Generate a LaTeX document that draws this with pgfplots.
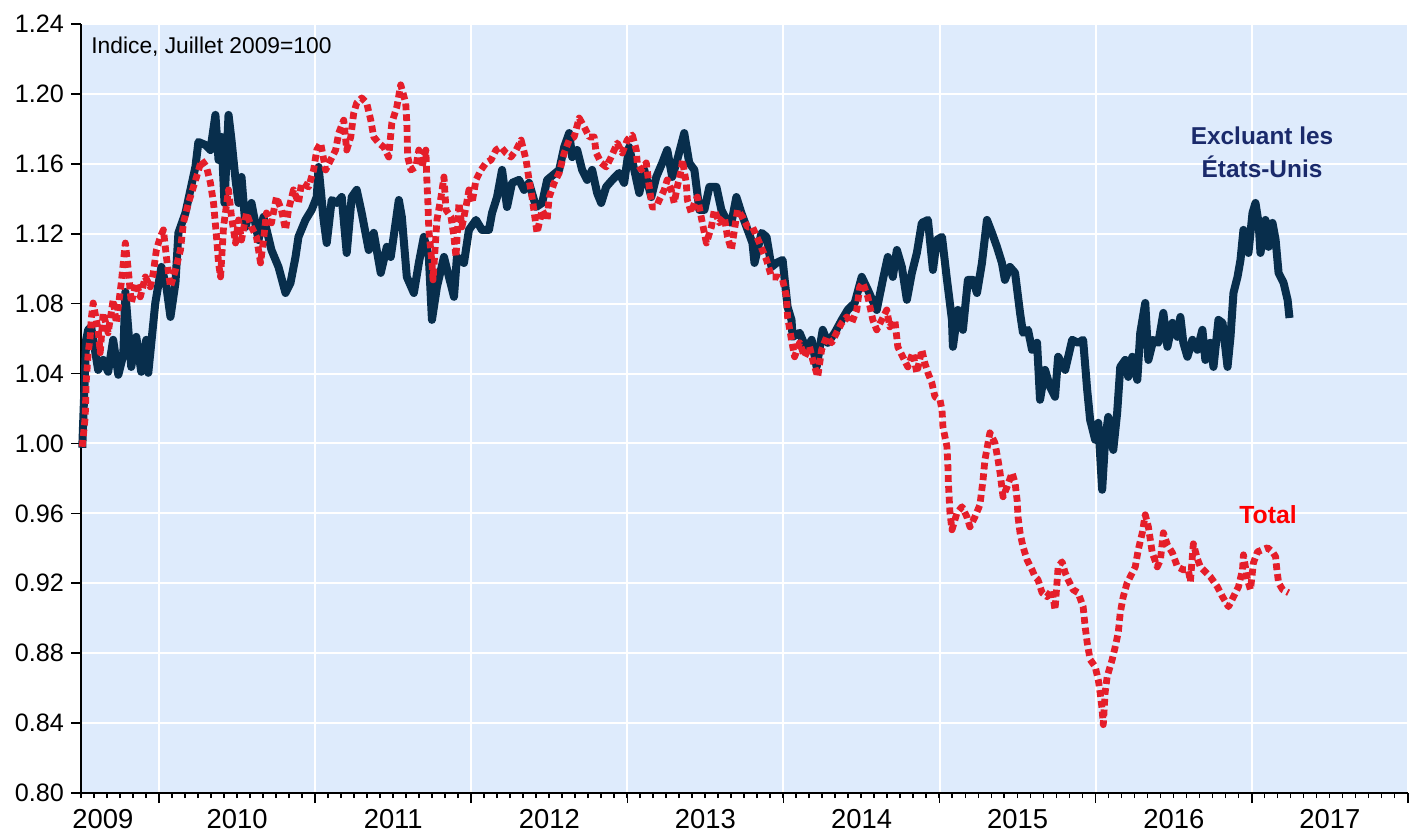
\documentclass[border=0pt]{standalone}
\usepackage{pgfplots}
\pgfplotsset{compat=1.18}
\usepackage{fontspec}
\setmainfont{Liberation Sans}
\definecolor{bgblue}{RGB}{222,235,252}
\definecolor{navyline}{RGB}{8,46,76}
\definecolor{redline}{RGB}{229,30,42}
\definecolor{navytext}{RGB}{26,42,107}
\definecolor{redtext}{RGB}{255,0,0}
\begin{document}
\begin{tikzpicture}
\useasboundingbox (-40.5pt,-19.5pt) rectangle (665.5pt,396.5pt);
\begin{axis}[
  at={(0,0)}, anchor=south west,
  scale only axis, width=663.5pt, height=384.5pt,
  xmin=2009.5, xmax=2018, ymin=0.80, ymax=1.24,
  axis background/.style={fill=bgblue},
  axis x line*=bottom, axis y line*=left,
  axis line style={black, line width=1pt, -},
  tick align=outside,
  xtick={2010,...,2018}, xticklabels={},
  minor xtick={2009.5,2009.58333,...,2018.01},
  major tick length=5pt, minor tick length=2.5pt,
  every tick/.style={black, line width=0.8pt},
  extra x ticks={2009.64,2010.5,2011.5,2012.5,2013.5,2014.5,2015.5,2016.5,2017.5},
  extra x tick labels={2009,2010,2011,2012,2013,2014,2015,2016,2017},
  extra x tick style={grid=none, major tick length=0pt},
  ytick={0.80,0.84,...,1.241},
  /pgf/number format/assume math mode=true,
  xticklabel style={font=\fontsize{13.7}{15}\selectfont, yshift=-7.2pt, inner sep=1pt},
  yticklabel style={font=\fontsize{12.6}{14}\selectfont, /pgf/number format/fixed, /pgf/number format/fixed zerofill, /pgf/number format/precision=2},
  grid=major,
  major grid style={white, line width=1pt},
  clip=false,
]
\addplot[navyline, line width=4pt, line join=round] table {
x y
2009.508 0.9975
2009.533 1.0593
2009.546 1.0650
2009.565 1.0667
2009.610 1.0421
2009.642 1.0478
2009.674 1.0410
2009.706 1.0593
2009.739 1.0393
2009.771 1.0507
2009.784 1.0867
2009.822 1.0438
2009.854 1.0610
2009.886 1.0410
2009.918 1.0593
2009.931 1.0404
2009.976 1.0804
2010.015 1.1010
2010.047 1.0896
2010.073 1.0724
2010.105 1.0919
2010.124 1.1205
2010.169 1.1319
2010.201 1.1451
2010.233 1.1583
2010.252 1.1725
2010.297 1.1708
2010.329 1.1679
2010.361 1.1880
2010.381 1.1622
2010.400 1.1754
2010.419 1.1376
2010.445 1.1880
2010.464 1.1736
2010.490 1.1508
2010.509 1.1376
2010.528 1.1525
2010.554 1.1239
2010.592 1.1376
2010.637 1.1164
2010.669 1.1296
2010.720 1.1107
2010.765 1.1010
2010.810 1.0861
2010.842 1.0919
2010.874 1.1067
2010.893 1.1182
2010.938 1.1279
2010.977 1.1336
2011.010 1.1410
2011.022 1.1582
2011.054 1.1279
2011.074 1.1147
2011.106 1.1393
2011.138 1.1376
2011.170 1.1410
2011.202 1.1090
2011.234 1.1410
2011.266 1.1451
2011.298 1.1319
2011.343 1.1107
2011.375 1.1205
2011.420 1.0976
2011.459 1.1125
2011.484 1.1067
2011.536 1.1393
2011.555 1.1296
2011.587 1.0953
2011.632 1.0861
2011.664 1.1033
2011.696 1.1182
2011.728 1.1067
2011.748 1.0707
2011.780 1.0896
2011.825 1.1067
2011.857 1.0953
2011.889 1.0839
2011.908 1.1067
2011.953 1.1033
2011.985 1.1222
2012.030 1.1279
2012.068 1.1222
2012.113 1.1222
2012.133 1.1319
2012.165 1.1410
2012.197 1.1565
2012.229 1.1353
2012.261 1.1491
2012.306 1.1508
2012.338 1.1451
2012.370 1.1491
2012.415 1.1353
2012.454 1.1376
2012.486 1.1508
2012.563 1.1565
2012.595 1.1696
2012.627 1.1776
2012.646 1.1639
2012.678 1.1679
2012.710 1.1565
2012.742 1.1508
2012.774 1.1565
2012.806 1.1433
2012.832 1.1376
2012.864 1.1468
2012.903 1.1508
2012.947 1.1548
2012.979 1.1491
2013.011 1.1696
2013.044 1.1565
2013.076 1.1433
2013.108 1.1565
2013.153 1.1410
2013.185 1.1525
2013.223 1.1605
2013.255 1.1679
2013.287 1.1525
2013.319 1.1622
2013.364 1.1776
2013.396 1.1605
2013.429 1.1565
2013.461 1.1336
2013.493 1.1336
2013.525 1.1468
2013.570 1.1468
2013.602 1.1336
2013.634 1.1279
2013.666 1.1262
2013.698 1.1410
2013.730 1.1319
2013.763 1.1239
2013.801 1.1147
2013.814 1.1033
2013.859 1.1205
2013.891 1.1182
2013.923 1.1010
2013.955 1.1033
2013.994 1.1050
2014.026 1.0781
2014.051 1.0707
2014.058 1.0610
2014.103 1.0633
2014.148 1.0536
2014.180 1.0593
2014.212 1.0438
2014.251 1.0650
2014.283 1.0576
2014.328 1.0633
2014.373 1.0707
2014.411 1.0764
2014.456 1.0804
2014.501 1.0953
2014.540 1.0879
2014.597 1.0764
2014.636 1.0936
2014.668 1.1067
2014.700 1.0953
2014.726 1.1107
2014.758 1.1010
2014.790 1.0822
2014.822 1.0976
2014.854 1.1090
2014.886 1.1262
2014.925 1.1279
2014.957 1.0993
2014.982 1.1165
2015.015 1.1182
2015.047 1.0936
2015.079 1.0707
2015.085 1.0553
2015.117 1.0764
2015.149 1.0650
2015.181 1.0936
2015.213 1.0936
2015.239 1.0861
2015.271 1.1033
2015.303 1.1279
2015.335 1.1205
2015.367 1.1125
2015.399 1.1033
2015.418 1.0936
2015.450 1.1010
2015.483 1.0976
2015.515 1.0747
2015.534 1.0633
2015.566 1.0650
2015.592 1.0536
2015.624 1.0576
2015.643 1.0250
2015.675 1.0421
2015.707 1.0324
2015.739 1.0267
2015.759 1.0496
2015.804 1.0421
2015.849 1.0593
2015.887 1.0576
2015.919 1.0593
2015.945 1.0307
2015.964 1.0135
2015.996 1.0021
2016.016 1.0118
2016.041 0.9735
2016.060 1.0021
2016.080 1.0152
2016.112 0.9963
2016.137 1.0175
2016.157 1.0438
2016.189 1.0478
2016.208 1.0381
2016.234 1.0496
2016.266 1.0364
2016.285 1.0633
2016.317 1.0804
2016.337 1.0478
2016.369 1.0593
2016.401 1.0576
2016.433 1.0747
2016.459 1.0553
2016.491 1.0690
2016.523 1.0610
2016.542 1.0724
2016.561 1.0576
2016.587 1.0496
2016.619 1.0593
2016.651 1.0536
2016.683 1.0650
2016.702 1.0478
2016.734 1.0576
2016.754 1.0438
2016.786 1.0707
2016.812 1.0690
2016.844 1.0438
2016.863 1.0610
2016.882 1.0861
2016.908 1.0953
2016.927 1.1050
2016.946 1.1222
2016.978 1.1090
2017.004 1.1319
2017.023 1.1376
2017.043 1.1262
2017.055 1.1090
2017.087 1.1279
2017.107 1.1125
2017.132 1.1262
2017.152 1.1165
2017.171 1.0976
2017.203 1.0919
2017.229 1.0821
2017.241 1.0718
};
\addplot[redline, line width=3.4pt, line join=round, dash pattern=on 3.4pt off 2pt] table {
x y
2009.508 0.9981
2009.527 1.0152
2009.533 1.0347
2009.546 1.0519
2009.559 1.0610
2009.565 1.0707
2009.578 1.0804
2009.610 1.0650
2009.623 1.0519
2009.642 1.0747
2009.674 1.0633
2009.706 1.0822
2009.726 1.0690
2009.758 1.0919
2009.784 1.1147
2009.803 1.0993
2009.822 1.0804
2009.854 1.0919
2009.880 1.0839
2009.912 1.0953
2009.944 1.0896
2009.963 1.0976
2009.983 1.1107
2010.008 1.1182
2010.028 1.1222
2010.047 1.1067
2010.073 1.0896
2010.105 1.0993
2010.137 1.1107
2010.156 1.1262
2010.188 1.1376
2010.208 1.1433
2010.240 1.1525
2010.272 1.1622
2010.304 1.1582
2010.329 1.1491
2010.349 1.1376
2010.368 1.1182
2010.381 1.1033
2010.394 1.0953
2010.413 1.1239
2010.445 1.1451
2010.464 1.1296
2010.490 1.1147
2010.509 1.1279
2010.528 1.1164
2010.560 1.1319
2010.592 1.1239
2010.624 1.1182
2010.650 1.1033
2010.669 1.1164
2010.688 1.1319
2010.720 1.1262
2010.752 1.1410
2010.784 1.1336
2010.810 1.1222
2010.829 1.1336
2010.861 1.1451
2010.893 1.1376
2010.913 1.1491
2010.958 1.1468
2010.990 1.1565
2011.010 1.1679
2011.035 1.1719
2011.067 1.1565
2011.099 1.1622
2011.131 1.1679
2011.151 1.1776
2011.183 1.1850
2011.202 1.1679
2011.228 1.1754
2011.247 1.1891
2011.266 1.1948
2011.298 1.1977
2011.330 1.1948
2011.356 1.1850
2011.375 1.1754
2011.407 1.1719
2011.439 1.1696
2011.471 1.1639
2011.491 1.1834
2011.523 1.1926
2011.548 1.2052
2011.580 1.1948
2011.587 1.1834
2011.593 1.1639
2011.613 1.1565
2011.645 1.1582
2011.664 1.1679
2011.684 1.1582
2011.709 1.1679
2011.716 1.1491
2011.722 1.1376
2011.728 1.1222
2011.748 1.1033
2011.755 1.0936
2011.780 1.1279
2011.806 1.1410
2011.825 1.1525
2011.838 1.1336
2011.870 1.1296
2011.889 1.1182
2011.902 1.1067
2011.921 1.1376
2011.940 1.1239
2011.966 1.1353
2011.985 1.1451
2012.005 1.1376
2012.030 1.1508
2012.062 1.1565
2012.094 1.1605
2012.126 1.1622
2012.158 1.1679
2012.190 1.1696
2012.222 1.1662
2012.254 1.1639
2012.287 1.1679
2012.319 1.1736
2012.351 1.1622
2012.370 1.1508
2012.389 1.1410
2012.421 1.1205
2012.454 1.1336
2012.486 1.1279
2012.499 1.1410
2012.531 1.1491
2012.563 1.1548
2012.595 1.1662
2012.627 1.1736
2012.659 1.1754
2012.691 1.1862
2012.723 1.1811
2012.755 1.1754
2012.787 1.1754
2012.800 1.1662
2012.832 1.1605
2012.864 1.1582
2012.896 1.1639
2012.935 1.1719
2012.967 1.1662
2012.999 1.1736
2013.031 1.1765
2013.057 1.1679
2013.063 1.1605
2013.089 1.1565
2013.121 1.1605
2013.140 1.1468
2013.159 1.1353
2013.185 1.1353
2013.204 1.1393
2013.236 1.1451
2013.255 1.1508
2013.281 1.1451
2013.300 1.1376
2013.319 1.1468
2013.345 1.1565
2013.352 1.1622
2013.377 1.1491
2013.384 1.1393
2013.409 1.1319
2013.429 1.1376
2013.448 1.1410
2013.480 1.1262
2013.506 1.1147
2013.538 1.1239
2013.557 1.1336
2013.589 1.1262
2013.621 1.1296
2013.641 1.1182
2013.666 1.1107
2013.705 1.1336
2013.737 1.1296
2013.769 1.1239
2013.801 1.1239
2013.846 1.1147
2013.891 1.1050
2013.923 1.0953
2013.962 1.0953
2013.994 1.0936
2014.019 1.0839
2014.026 1.0724
2014.051 1.0593
2014.071 1.0496
2014.103 1.0576
2014.135 1.0496
2014.167 1.0553
2014.187 1.0478
2014.219 1.0381
2014.244 1.0536
2014.276 1.0610
2014.308 1.0576
2014.340 1.0633
2014.373 1.0690
2014.405 1.0724
2014.437 1.0690
2014.469 1.0764
2014.488 1.0896
2014.508 1.0919
2014.540 1.0839
2014.572 1.0707
2014.597 1.0650
2014.629 1.0707
2014.661 1.0764
2014.681 1.0667
2014.713 1.0707
2014.732 1.0553
2014.764 1.0496
2014.796 1.0438
2014.828 1.0519
2014.854 1.0404
2014.886 1.0536
2014.905 1.0461
2014.925 1.0404
2014.950 1.0347
2014.970 1.0267
2015.002 1.0250
2015.015 1.0193
2015.021 1.0095
2015.047 0.9981
2015.053 0.9866
2015.056 0.9775
2015.066 0.9603
2015.079 0.9506
2015.111 0.9603
2015.143 0.9638
2015.175 0.9580
2015.194 0.9523
2015.226 0.9580
2015.258 0.9649
2015.278 0.9792
2015.290 0.9906
2015.322 1.0061
2015.354 1.0003
2015.374 0.9906
2015.387 0.9832
2015.406 0.9695
2015.432 0.9752
2015.464 0.9832
2015.483 0.9775
2015.496 0.9678
2015.502 0.9580
2015.515 0.9489
2015.534 0.9409
2015.560 0.9334
2015.592 0.9277
2015.611 0.9237
2015.630 0.9220
2015.656 0.9146
2015.688 0.9123
2015.720 0.9163
2015.739 0.9048
2015.759 0.9294
2015.784 0.9323
2015.804 0.9260
2015.823 0.9220
2015.855 0.9163
2015.887 0.9146
2015.919 0.9066
2015.932 0.8952
2015.945 0.8860
2015.964 0.8763
2015.996 0.8723
2016.016 0.8648
2016.028 0.8574
2016.041 0.8477
2016.048 0.8391
2016.060 0.8574
2016.073 0.8666
2016.105 0.8763
2016.125 0.8838
2016.144 0.8918
2016.157 0.9032
2016.176 0.9123
2016.201 0.9203
2016.234 0.9260
2016.253 0.9294
2016.272 0.9391
2016.298 0.9489
2016.317 0.9592
2016.337 0.9523
2016.362 0.9374
2016.394 0.9294
2016.414 0.9334
2016.433 0.9489
2016.459 0.9420
2016.491 0.9374
2016.523 0.9294
2016.561 0.9277
2016.593 0.9277
2016.606 0.9209
2016.625 0.9426
2016.651 0.9340
2016.670 0.9294
2016.689 0.9277
2016.734 0.9237
2016.779 0.9180
2016.812 0.9123
2016.850 0.9066
2016.882 0.9123
2016.914 0.9180
2016.940 0.9277
2016.946 0.9363
2016.972 0.9220
2016.991 0.9163
2017.010 0.9317
2017.036 0.9380
2017.068 0.9392
2017.100 0.9403
2017.132 0.9380
2017.152 0.9352
2017.158 0.9294
2017.171 0.9203
2017.197 0.9163
2017.235 0.9146
};
\node[anchor=base west, inner sep=0pt, font=\fontsize{11.4}{13}\selectfont] at (rel axis cs:0.0075,0.962) {Indice, Juillet 2009=100};
\node[anchor=base, text=navytext, font=\bfseries\fontsize{12.2}{14}\selectfont] at (rel axis cs:0.890,0.843) {Excluant les};
\node[anchor=base, text=navytext, font=\bfseries\fontsize{12.2}{14}\selectfont] at (rel axis cs:0.890,0.801) {États-Unis};
\node[anchor=base, text=redtext, font=\bfseries\fontsize{12.4}{14}\selectfont] at (rel axis cs:0.8945,0.351) {Total};
\end{axis}
\end{tikzpicture}
\end{document}
